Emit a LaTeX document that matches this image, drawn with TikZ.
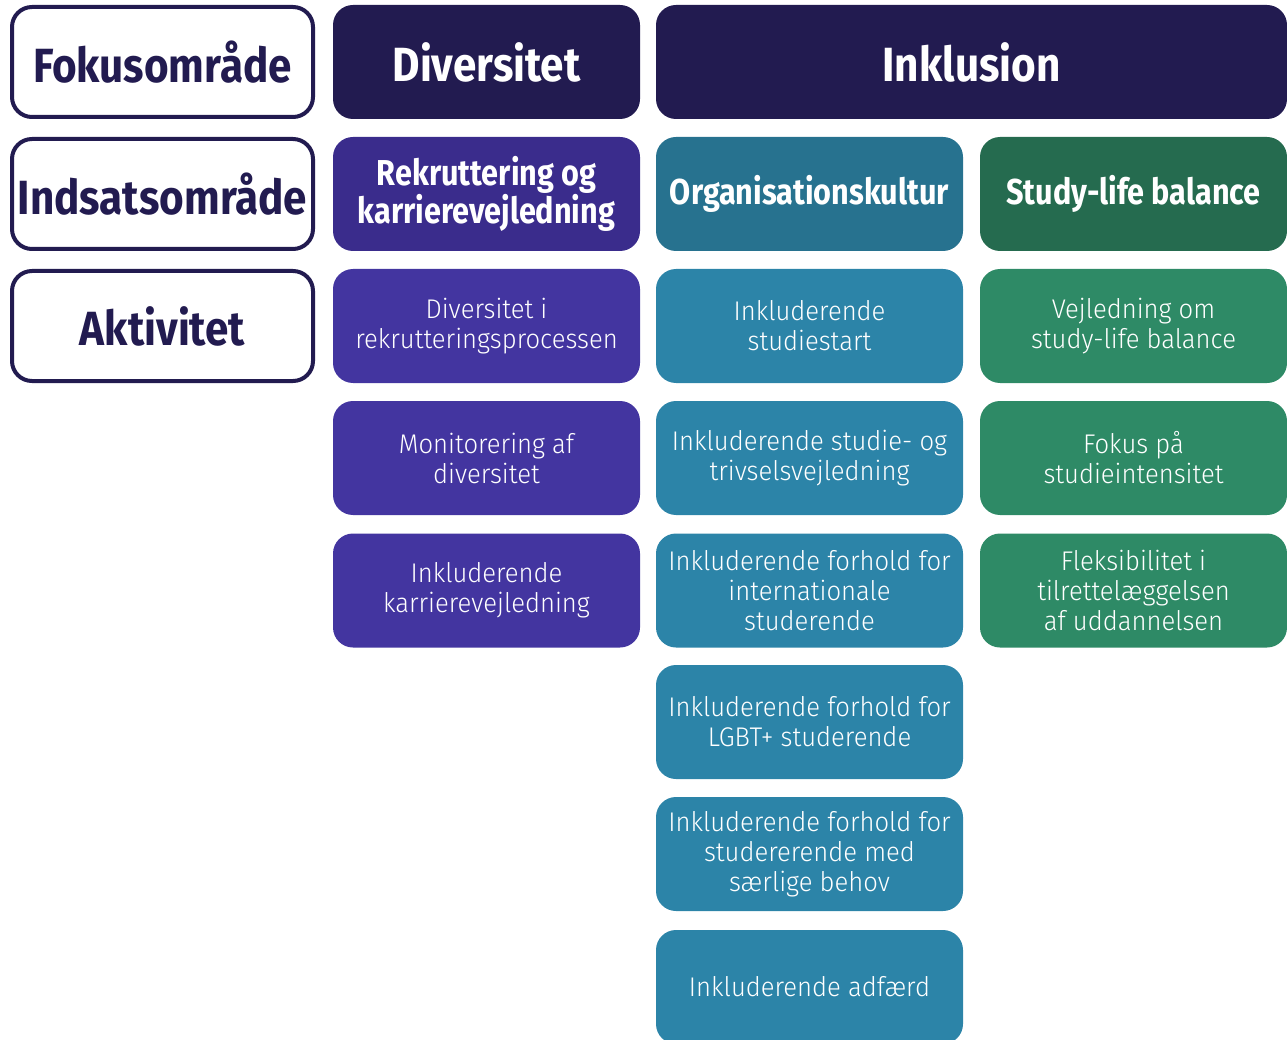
\documentclass[tikz,border=0pt]{standalone}
\usepackage{fontspec}
\setmainfont{Fira Sans}
\newfontfamily\hfont{Fira Sans}[FakeStretch=0.85]
\newfontfamily\tfont{Fira Sans}[FakeStretch=0.88]
\newfontfamily\afont{Fira Sans Light}[FakeStretch=0.95]
\definecolor{navy}{RGB}{34,27,80}
\definecolor{rekr}{RGB}{58,44,140}
\definecolor{purp}{RGB}{67,53,160}
\definecolor{orgh}{RGB}{39,114,143}
\definecolor{teal}{RGB}{44,132,168}
\definecolor{stuh}{RGB}{37,107,79}
\definecolor{grn}{RGB}{46,138,102}
\tikzset{
  box/.style={rounded corners=20pt, minimum width=307pt, minimum height=114pt, align=center, inner sep=0pt, text=white},
  lab/.style={box, draw=navy, line width=4pt, fill=white, minimum width=301pt, minimum height=110pt, text=navy, font=\tfont\bfseries\fontsize{48}{50}\selectfont},
  top/.style={box, fill=navy, font=\tfont\bfseries\fontsize{48}{50}\selectfont},
  sub/.style={box, font=\hfont\bfseries\fontsize{36}{38}\selectfont},
  act/.style={box, font=\afont\fontsize{27}{30}\selectfont},
}
\begin{document}
\begin{tikzpicture}[x=1pt,y=-1pt]
\useasboundingbox (0,0) rectangle (1287,1040);
\clip (0,0) rectangle (1287,1040);
% left labels
\node[lab] (fok) at (162.5,62) {Fokusområde};
\node[lab] (ind) at (162.5,194) {Indsatsområde};
\node[lab] (akt) at (162.5,326) {Aktivitet};
% focus areas
\node[top] (div) at (486.5,62) {Diversitet};
\node[top, minimum width=631pt] (ink) at (971.5,62) {Inklusion};
% effort areas
\node[sub, fill=rekr] (rek) at (486.5,194) {Rekruttering og\\karrierevejledning};
\node[sub, fill=orgh] (org) at (809.5,194) {Organisationskultur};
\node[sub, fill=stuh] (stu) at (1133.5,194) {Study-life balance};
% activities: diversitet
\node[act, fill=purp] (d1) at (486.5,326) {Diversitet i\\rekrutteringsprocessen};
\node[act, fill=purp] (d2) at (486.5,458) {Monitorering af\\diversitet};
\node[act, fill=purp] (d3) at (486.5,590.5) {Inkluderende\\karrierevejledning};
% activities: organisationskultur
\node[act, fill=teal] (o1) at (809.5,326) {Inkluderende\\studiestart};
\node[act, fill=teal] (o2) at (809.5,458) {Inkluderende studie- og\\trivselsvejledning};
\node[act, fill=teal] (o3) at (809.5,590.5) {Inkluderende forhold for\\internationale\\studerende};
\node[act, fill=teal] (o4) at (809.5,722) {Inkluderende forhold for\\LGBT+ studerende};
\node[act, fill=teal] (o5) at (809.5,854) {Inkluderende forhold for\\studererende med\\særlige behov};
\node[act, fill=teal] (o6) at (809.5,987) {Inkluderende adfærd};
% activities: study-life balance
\node[act, fill=grn] (s1) at (1133.5,326) {Vejledning om\\study-life balance};
\node[act, fill=grn] (s2) at (1133.5,458) {Fokus på\\studieintensitet};
\node[act, fill=grn] (s3) at (1133.5,590.5) {Fleksibilitet i\\tilrettelæggelsen\\af uddannelsen};
\end{tikzpicture}
\end{document}
